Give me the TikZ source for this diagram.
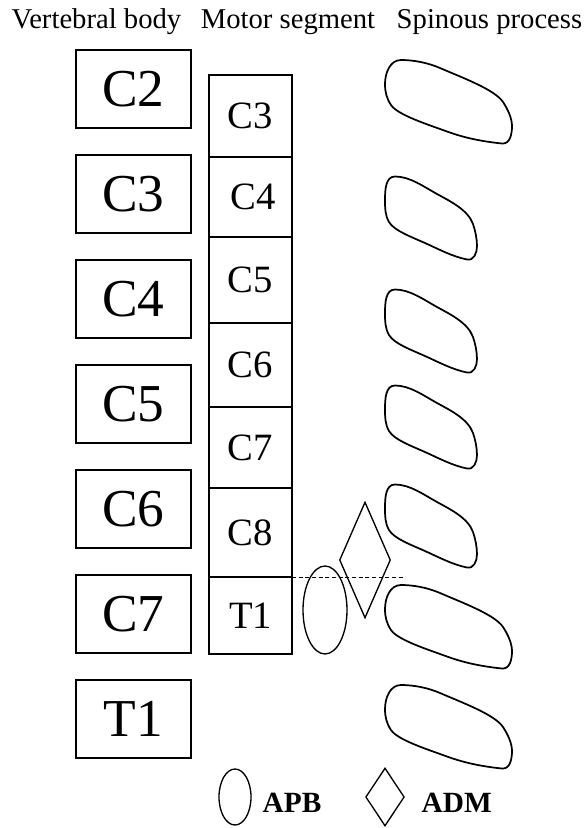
\documentclass[tikz,border=0pt]{standalone}
\usepackage{fontspec}
\setmainfont{Liberation Serif}
\usetikzlibrary{positioning, shapes.geometric}

\tikzset{
	head/.style={anchor=base, font=\fontsize{21.5}{21.5}\selectfont},
	vbody/.style={draw, line width=1.1pt, minimum width=86pt, minimum height=58.5pt, inner sep=0pt, font=\fontsize{40}{40}\selectfont},
	seg/.style={draw, line width=1.1pt, minimum width=62.25pt, inner sep=0pt, outer sep=0pt, font=\fontsize{29}{29}\selectfont},
	spine/.style={line width=1.3pt},
	muscle/.style={draw, line width=1pt, inner sep=0pt},
	key/.style={anchor=base west, font=\bfseries\fontsize{22}{22}\selectfont}
}

\begin{document}
\begin{tikzpicture}[x=0.75pt, y=-0.75pt]
	\useasboundingbox (0,0) rectangle (588,828);
	% column titles
	\node[head] (tbody) at (96.5,28) {Vertebral body};
	\node[head] (tseg) at (288,28) {Motor segment};
	\node[head] (tspine) at (489.5,28) {Spinous process};

	% vertebral bodies
	\foreach \v [count=\i from 0] in {C2,C3,C4,C5,C6,C7,T1}
		\node[vbody] (vb\v) at (133.5,89+105*\i) {\v};

	% motor segments, stacked
	\node[seg, minimum height=61.5pt, anchor=north] (msC3) at (250.5,75) {C3};
	\node[seg, minimum height=60pt, below=0pt of msC3] (msC4) {\hspace{4pt}C4};
	\node[seg, minimum height=64.5pt, below=0pt of msC4] (msC5) {C5};
	\node[seg, minimum height=63pt, below=0pt of msC5] (msC6) {C6};
	\node[seg, minimum height=60.75pt, below=0pt of msC6] (msC7) {C7};
	\node[seg, minimum height=66.75pt, below=0pt of msC7] (msC8) {C8};
	\node[seg, minimum height=57.75pt, below=0pt of msC8] (msT1) {T1};
	\draw[line width=1.6pt] (msC6.north west) -- (msC6.north east);
	\draw[line width=1.6pt] (msC7.north west) -- (msC7.north east);
	\draw[line width=1.6pt] (msT1.north west) -- (msT1.north east);

	% spinous processes (long ones at C2, C7, T1)
	\foreach \t in {60,585,685}
		\draw[spine, shift={(385,\t)}] (16,0) .. controls (29,0) and (43,2.8) .. (55,8)
			.. controls (77,17.6) and (109.7,29.5) .. (118,42)
			.. controls (122.4,48.6) and (127,58) .. (127,66)
			.. controls (127,74) and (125,84.3) .. (117,83.5)
			.. controls (98,81.6) and (79.7,78) .. (62,71.5)
			.. controls (43.4,64.7) and (12.6,55) .. (6,45)
			.. controls (1.6,38.4) and (0,32) .. (0,24)
			.. controls (0,13) and (5,0) .. cycle;
	\foreach \t in {176,289,385,484}
		\draw[spine, shift={(385,\t)}] (10,0.5) .. controls (25,0.5) and (38.9,10.8) .. (52,18)
			.. controls (65.1,25.2) and (83,33.9) .. (88,48)
			.. controls (90.3,54.6) and (92,63) .. (92,70)
			.. controls (92,77) and (88.9,84.9) .. (82,83.5)
			.. controls (67.3,80.5) and (53.7,73.2) .. (40,67)
			.. controls (27.3,61.3) and (9,54.7) .. (4,46)
			.. controls (0,39) and (0,32) .. (0,24)
			.. controls (0,14) and (0.5,0.5) .. cycle;

	% recording sites
	\coordinate (cut) at (404,577);
	\draw[line width=0.6pt, dash pattern=on 3pt off 2pt] (msT1.north east) -- (cut);
	\node[muscle, ellipse, minimum width=33pt, minimum height=66pt] (apb) at (325,610) {};
	\node[muscle, diamond, minimum width=38.25pt, minimum height=87pt] (adm) at (365,560) {};

	% legend
	\node[muscle, ellipse, minimum width=24pt, minimum height=42pt] (kapb) at (235,797) {};
	\node[key] (lapb) at (258,812) {APB};
	\node[muscle, diamond, minimum width=29pt, minimum height=43.5pt] (kadm) at (385,797) {};
	\node[key] (ladm) at (417,812) {ADM};
\end{tikzpicture}
\end{document}
